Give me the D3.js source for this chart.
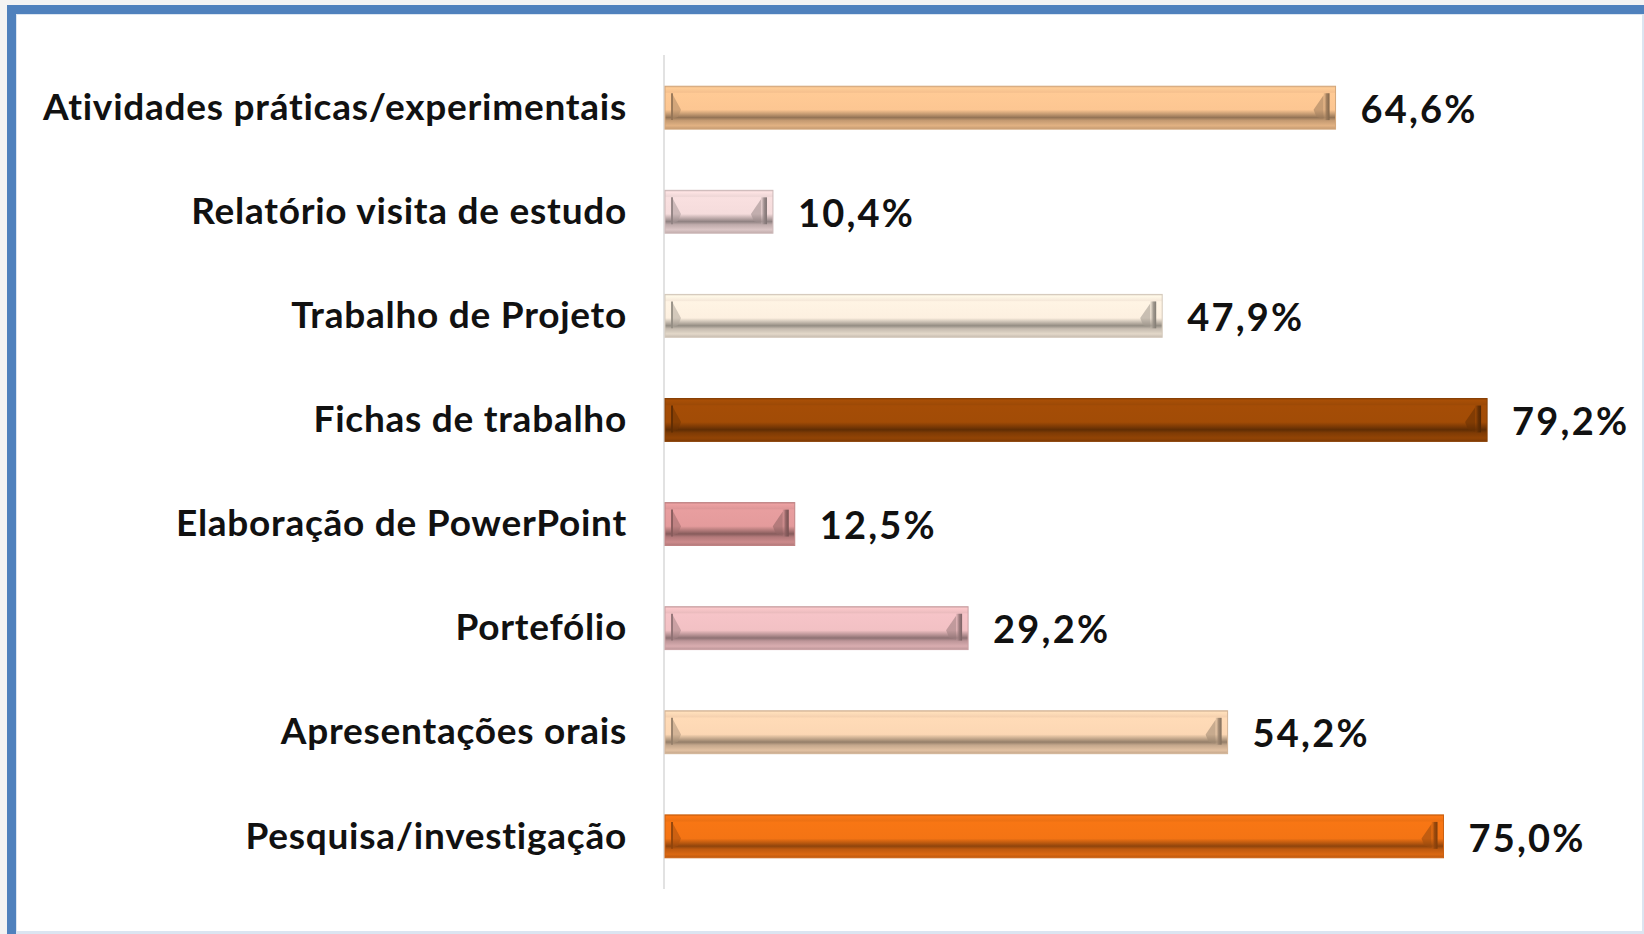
<!DOCTYPE html>
<html>
<head>
<meta charset="utf-8">
<script src="https://cdn.jsdelivr.net/npm/d3@7"></script>
<style>
    html, body {
        margin: 0;
        padding: 0;
        background: #f3f3f3;
        overflow: hidden;
    }
    svg text {
        font-family: Lato, "Open Sans", sans-serif;
        font-weight: 700;
        fill: #111;
    }
</style>
</head>
<body>
<script>
    // chart data, top to bottom
    const categories = [
        "Atividades práticas/experimentais",
        "Relatório visita de estudo",
        "Trabalho de Projeto",
        "Fichas de trabalho",
        "Elaboração de PowerPoint",
        "Portefólio",
        "Apresentações orais",
        "Pesquisa/investigação"
    ];
    const values = [64.6, 10.4, 47.9, 79.2, 12.5, 29.2, 54.2, 75.0];

    const width = 1644, height = 934;

    const color = d3.scaleOrdinal()
        .domain(categories)
        .range(["#fcc692", "#f5dcdc", "#fdf0e0", "#a24c06", "#e49b9c", "#f2c1c4", "#fcd7b4", "#f47414"]);

    const svg = d3.select("body").append("svg")
        .attr("width", width)
        .attr("height", height);

    // frame: blue border on top and left, cut at right and bottom
    svg.append("rect").attr("x", 7).attr("y", 5).attr("width", width - 7).attr("height", height - 5).attr("fill", "#4f81bd");
    svg.append("rect").attr("x", 16).attr("y", 14).attr("width", width - 16).attr("height", height - 14).attr("fill", "#dbe5f1");
    svg.append("rect").attr("x", 17).attr("y", 15).attr("width", width - 19).attr("height", height - 18).attr("fill", "#fff");

    const x = d3.scaleLinear().domain([0, 100]).range([665, 1703]);
    const y = d3.scaleBand().domain(categories).range([55, 889])
        .paddingInner(0.588).paddingOuter(0.3);

    const fmt = v => d3.format(".1f")(v).replace(".", ",") + "%";

    const defs = svg.append("defs");

    // vertical shading for the bevelled bars
    categories.forEach((c, i) => {
        const base = d3.color(color(c));
        const g = defs.append("linearGradient")
            .attr("id", "grad" + i)
            .attr("x1", 0).attr("y1", 0).attr("x2", 0).attr("y2", 1);
        const stops = [
            [0, base.darker(0.35)],
            [0.04, base.brighter(0.1)],
            [0.14, base.darker(0.08)],
            [0.17, base.brighter(0.05)],
            [0.55, base],
            [0.66, base.darker(0.8)],
            [0.73, base.darker(1.5)],
            [0.8, base.darker(0.7)],
            [0.92, base.darker(0.3)],
            [1, base.darker(0.7)]
        ];
        stops.forEach(s => g.append("stop").attr("offset", s[0]).attr("stop-color", s[1]));

        const r = defs.append("linearGradient")
            .attr("id", "end" + i)
            .attr("x1", 0).attr("y1", 0).attr("x2", 1).attr("y2", 0);
        r.append("stop").attr("offset", 0).attr("stop-color", base.darker(0.6)).attr("stop-opacity", 0.3);
        r.append("stop").attr("offset", 0.5).attr("stop-color", base.darker(1.4)).attr("stop-opacity", 0.9);
        r.append("stop").attr("offset", 1).attr("stop-color", base.darker(1.9));
    });

    // axis line
    svg.append("line")
        .attr("x1", x(0) - 1).attr("x2", x(0) - 1)
        .attr("y1", y.range()[0]).attr("y2", y.range()[1])
        .attr("stroke", "#d9d9d9").attr("stroke-width", 1.5);

    const bar = svg.selectAll("g.bar")
        .data(categories)
        .join("g")
        .attr("class", "bar")
        .attr("transform", c => `translate(0,${y(c)})`);

    const bh = y.bandwidth();
    const b = 7;

    bar.append("rect")
        .attr("x", x(0))
        .attr("y", 0)
        .attr("width", (c, i) => x(values[i]) - x(0))
        .attr("height", bh)
        .attr("fill", (c, i) => `url(#grad${i})`)
        .attr("stroke", c => d3.color(color(c)).darker(0.5))
        .attr("stroke-width", 1);

    // left bevel: dark line and a shaded wedge
    bar.append("path")
        .attr("d", `M${x(0) + b},${b} L${x(0) + b + 9},${bh * 0.55} L${x(0) + b + 6},${bh - 12} L${x(0) + b},${bh - 10} Z`)
        .attr("fill", c => d3.color(color(c)).darker(1))
        .attr("opacity", 0.55);
    bar.append("line")
        .attr("x1", x(0) + b).attr("x2", x(0) + b)
        .attr("y1", b).attr("y2", bh - 9)
        .attr("stroke", c => d3.color(color(c)).darker(1.5))
        .attr("stroke-width", 1.8);

    // right bevel: dark band and shaded wedge
    bar.append("path")
        .attr("d", (c, i) => {
            const xe = x(values[i]);
            return `M${xe - b - 5},${b + 2} L${xe - b - 15},${bh * 0.55} L${xe - b - 12},${bh - 12} L${xe - b - 5},${bh - 10} Z`;
        })
        .attr("fill", c => d3.color(color(c)).darker(1.2))
        .attr("opacity", 0.6);
    bar.append("rect")
        .attr("x", (c, i) => x(values[i]) - b - 5)
        .attr("y", b)
        .attr("width", 6)
        .attr("height", bh - b - 9)
        .attr("fill", (c, i) => `url(#end${i})`);

    // category labels
    bar.append("text")
        .attr("x", 627)
        .attr("y", bh / 2)
        .attr("dy", "0.33em")
        .attr("text-anchor", "end")
        .style("font-size", "37px")
        .style("letter-spacing", "0.75px")
        .text(c => c);

    // value labels
    bar.append("text")
        .attr("x", (c, i) => x(values[i]) + 25)
        .attr("y", bh / 2)
        .attr("dy", "0.4em")
        .style("font-size", "38px")
        .style("letter-spacing", "2.2px")
        .text((c, i) => fmt(values[i]));
</script>
</body>
</html>
